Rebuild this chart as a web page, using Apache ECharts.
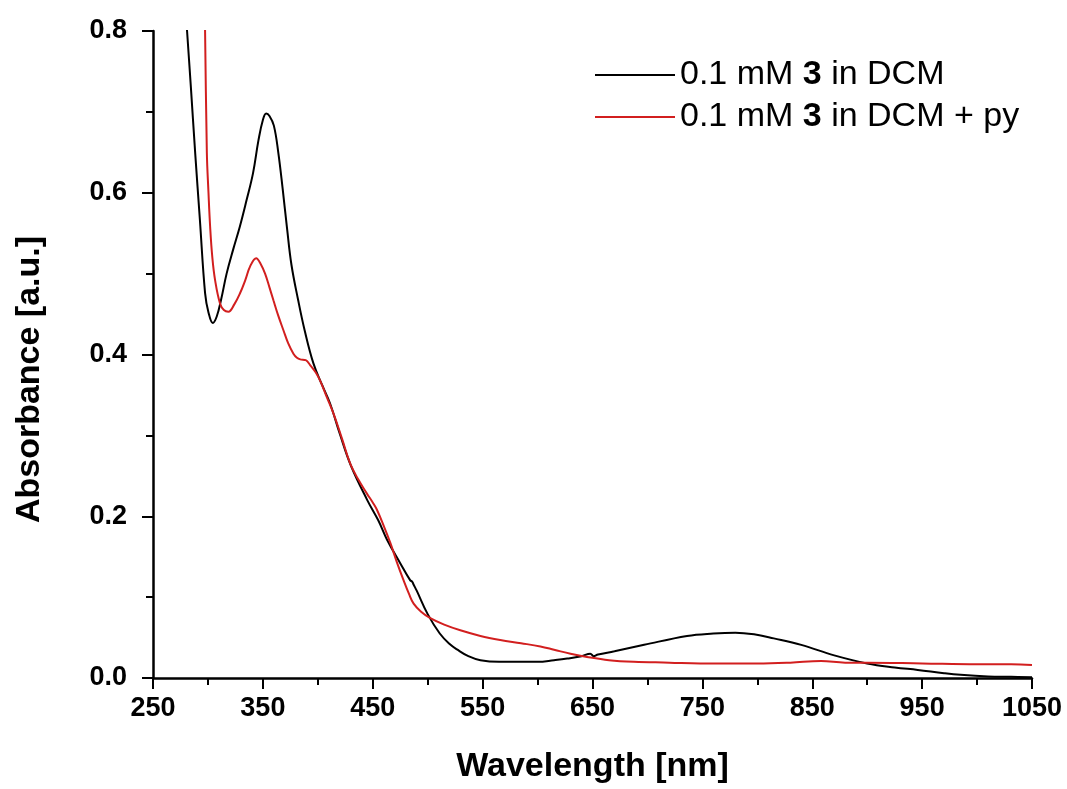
<!DOCTYPE html>
<html>
<head>
<meta charset="utf-8">
<script src="https://cdn.jsdelivr.net/npm/echarts@6/dist/echarts.min.js"></script>
<style>html,body{margin:0;padding:0;background:#fff}#c{width:1067px;height:789px}</style>
</head>
<body>
<div id="c"></div>
<script>
// Tick settings
var xTicks = [250, 350, 450, 550, 650, 750, 850, 950, 1050];
var yTicks = [0.0, 0.2, 0.4, 0.6, 0.8];
var seriesNames = ['0.1 mM 3 in DCM', '0.1 mM 3 in DCM + py'];

// 0.1 mM 3 in DCM : [wavelength nm, absorbance]
var dcm = [
[280,0.82],[281,0.80],[284.5,0.73],[288.4,0.649],[292.7,0.566],[297.4,0.476],[300.5,0.452],
[304.4,0.439],[308,0.447],[312,0.468],[317,0.500],[323,0.530],[329,0.558],[335,0.590],
[341,0.624],[346,0.665],[350,0.690],[353,0.698],[356,0.695],[360,0.683],[364,0.650],
[368,0.605],[372,0.556],[376,0.511],[382,0.468],[388,0.430],[396,0.389],[404,0.362],
[411,0.340],[420,0.302],[430,0.263],[445,0.220],[455,0.195],[463,0.171],[475,0.142],
[484,0.121],[486,0.119],[487,0.116],[490,0.108],[500,0.079],[511,0.055],[520,0.042],
[527,0.035],[537,0.027],[548,0.022],[565,0.020],[580,0.020],[600,0.020],[615,0.022],
[627,0.024],[640,0.027],[648,0.030],[651,0.027],[655,0.029],[670,0.033],[697,0.041],
[736,0.052],[760,0.055],[780,0.056],[797,0.054],[815,0.049],[840,0.041],[870,0.028],
[900,0.018],[925,0.013],[946,0.010],[970,0.006],[985,0.004],[1010,0.002],[1031,0.0015],[1050,0.001]
];

// 0.1 mM 3 in DCM + py : [wavelength nm, absorbance]
var dcmPy = [
[297,0.82],[297.4,0.80],[299,0.65],[300.5,0.60],[302,0.558],[304,0.52],[306.5,0.492],
[311,0.463],[314.5,0.455],[318.6,0.453],[324,0.462],[329.3,0.476],[334,0.492],[338.4,0.509],
[343.9,0.519],[348,0.512],[352,0.500],[356,0.483],[359.6,0.467],[364,0.448],[368.7,0.430],
[373,0.414],[377.8,0.401],[381,0.396],[384,0.394],[389,0.393],[393,0.387],[398,0.378],
[402,0.368],[408,0.348],[414.3,0.327],[422,0.296],[429.5,0.265],[437,0.245],[444.7,0.228],
[450,0.217],[453.8,0.208],[460,0.188],[466,0.167],[472,0.143],[478,0.121],[483,0.104],
[487.2,0.092],[494,0.082],[502.4,0.074],[515,0.066],[529.7,0.059],[548,0.052],[566,0.047],
[585,0.043],[602.6,0.039],[615,0.035],[630,0.030],[645,0.026],[665,0.022],[687.6,0.020],
[720,0.019],[748,0.018],[800,0.018],[830,0.019],[858,0.021],[880,0.019],[900,0.019],
[950,0.018],[1000,0.017],[1031,0.017],[1050,0.016]
];

var chart = echarts.init(document.getElementById('c'), null, {renderer: 'canvas'});
var font = "'Liberation Sans', Arial, sans-serif";
chart.setOption({
  backgroundColor: '#ffffff',
  animation: false,
  grid: {left: 153, right: 35, top: 31, bottom: 111, containLabel: false, outerBoundsMode: 'none'},
  legend: {
    left: 590, top: 53, orient: 'vertical', itemGap: 8,
    icon: 'rect', itemWidth: 80, itemHeight: 2,
    formatter: function (n) { return n.replace(' 3 ', ' {b|3} '); },
    textStyle: {fontFamily: font, fontSize: 34, color: '#000',
      rich: {b: {fontFamily: font, fontSize: 34, fontWeight: 'bold', color: '#000'}}},
    data: seriesNames
  },
  xAxis: {
    type: 'value', min: 250, max: 1050, interval: 100,
    name: 'Wavelength [nm]', nameLocation: 'middle', nameGap: 72,
    nameTextStyle: {fontFamily: font, fontSize: 34, fontWeight: 'bold', color: '#000'},
    axisLine: {onZero: false, lineStyle: {color: '#000', width: 2.5}},
    axisTick: {show: true, inside: false, length: 11, lineStyle: {color: '#000', width: 2}},
    minorTick: {show: true, splitNumber: 2, length: 7, lineStyle: {color: '#000', width: 2}},
    axisLabel: {margin: 17, fontFamily: font, fontSize: 27, fontWeight: 'bold', color: '#000',
      formatter: function (v) { return xTicks.indexOf(v) >= 0 ? String(v) : ''; }},
    splitLine: {show: false}
  },
  yAxis: {
    type: 'value', min: 0, max: 0.8, interval: 0.2,
    name: 'Absorbance [a.u.]', nameLocation: 'middle', nameGap: 106,
    nameTextStyle: {fontFamily: font, fontSize: 34, fontWeight: 'bold', color: '#000', padding: [0, 50, 0, 0]},
    axisLine: {onZero: false, lineStyle: {color: '#000', width: 2.5}},
    axisTick: {show: true, inside: false, length: 11, lineStyle: {color: '#000', width: 2}},
    minorTick: {show: true, splitNumber: 2, length: 7, lineStyle: {color: '#000', width: 2}},
    axisLabel: {margin: 26, fontFamily: font, fontSize: 27, fontWeight: 'bold', color: '#000',
      formatter: function (v) { return v.toFixed(1); }},
    splitLine: {show: false}
  },
  series: [
    {name: seriesNames[0], type: 'line', data: dcm, showSymbol: false, symbol: 'none',
     smooth: 0.4, clip: true,
     lineStyle: {color: '#000000', width: 2}, itemStyle: {color: '#000000'}},
    {name: seriesNames[1], type: 'line', data: dcmPy, showSymbol: false, symbol: 'none',
     smooth: 0.4, clip: true,
     lineStyle: {color: '#d21f1f', width: 2}, itemStyle: {color: '#d21f1f'}}
  ]
});
</script>
</body>
</html>
